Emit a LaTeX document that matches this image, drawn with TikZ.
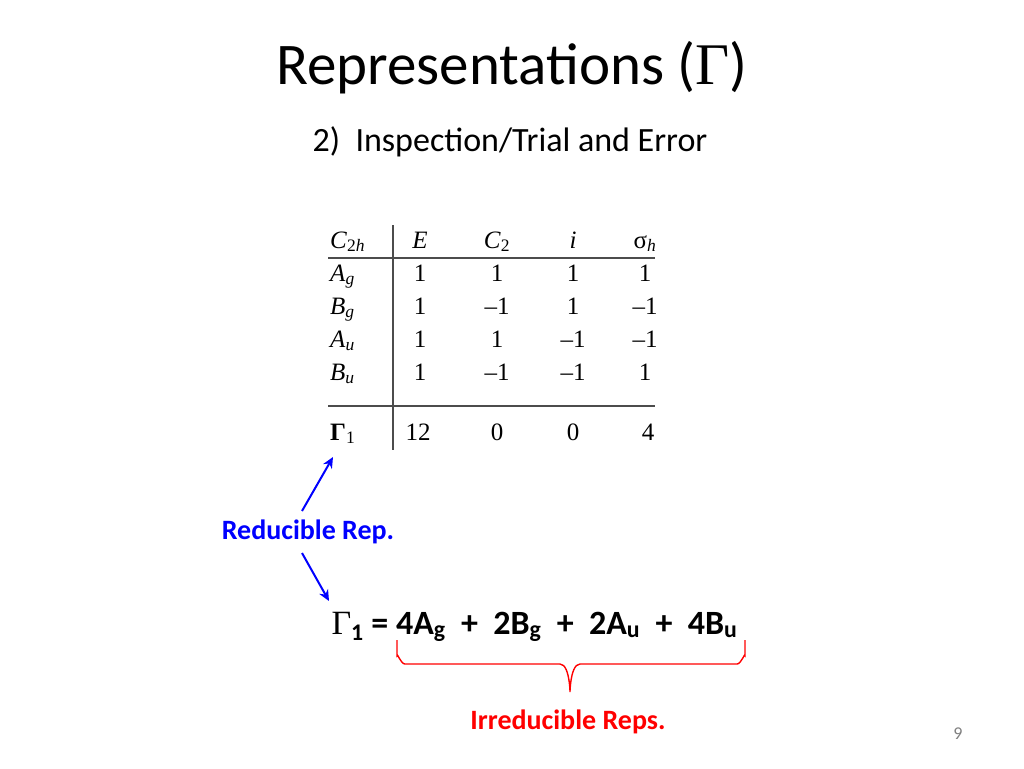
\documentclass[tikz,border=0pt]{standalone}
\usepackage{fontspec}
\setmainfont{Carlito}
\newfontfamily\tabfont{Liberation Serif}
\usetikzlibrary{arrows.meta}
\tikzset{
  cell/.style={font=\tabfont\fontsize{25}{28}\selectfont, inner sep=0pt, anchor=base},
  rule/.style={draw=black!70, line width=1.4pt},
  pointer/.style={draw=blue, line width=2pt, -{Stealth[length=11pt,width=10pt]}},
}
\begin{document}
\begin{tikzpicture}[x=1pt, y=-1pt]
\useasboundingbox (0,0) rectangle (1024,768);
% title
\node (title) at (512,68) {\fontsize{59}{64}\selectfont Representations ({\tabfont Γ})};
\node (sub) at (510,142) {\fontsize{34}{38}\selectfont 2)\ \ Inspection/Trial and Error};
% character table
\draw[rule] (328,258) -- (655,258);
\draw[rule] (328,406) -- (655,406);
\draw[rule] (393,225) -- (393,450);
\foreach \lbl/\xx in {\textit{E}/420, \textit{C}\textsubscript{2}/497, \textit{i}/573, σ\textsubscript{\textit{h}}/645}
  \node[cell] at (\xx,248) {\lbl};
\node[cell, anchor=base west] (c2h) at (330,248) {\textit{C}\textsubscript{2\textit{h}}};
\foreach \nm/\sb/\a/\b/\c/\d [count=\r] in {A/g/1/1/1/1, B/g/1/–1/1/–1, A/u/1/1/–1/–1, B/u/1/–1/–1/1}{
  \node[cell, anchor=base west] (irr\r) at (330,248+33*\r) {\textit{\nm}\textsubscript{\textit{\sb}}};
  \node[cell] at (420,248+33*\r) {\a};
  \node[cell] at (497,248+33*\r) {\b};
  \node[cell] at (573,248+33*\r) {\c};
  \node[cell] at (645,248+33*\r) {\d};
}
\node[cell, anchor=base west] (gam) at (330,440) {\textbf{Γ}\textsubscript{1}};
\foreach \v/\xx in {12/418, 0/497, 0/573, 4/648}
  \node[cell] at (\xx,440) {\v};
% labels and pointers
\node[text=blue, font=\bfseries\fontsize{28}{30}\selectfont] (red) at (308,532) {Reducible Rep.};
\coordinate (up) at (333,457);
\coordinate (dn) at (329,601);
\draw[pointer] (302,511) -- (up);
\draw[pointer] (302,553) -- (dn);
\node[anchor=base west, font=\bfseries\fontsize{34}{36}\selectfont] (eq) at (328,634)
  {{\tabfont\mdseries Γ}\textsubscript{1} = 4A\textsubscript{g}\ \ +\ \ 2B\textsubscript{g}\ \ +\ \ 2A\textsubscript{u}\ \ +\ \ 4B\textsubscript{u}};
\draw[red, line width=1.4pt] (397,640) -- (397,656) to[out=90,in=180] (405,664) -- (560,664)
  to[out=0,in=-90] (570,690) to[out=-90,in=180] (580,664) -- (737,664) to[out=0,in=90] (745,656) -- (745,640);
\node[text=red, font=\bfseries\fontsize{28}{30}\selectfont] (irred) at (568,722) {Irreducible Reps.};
\node[text=gray, font=\fontsize{18}{20}\selectfont] (page) at (958,734) {9};
\end{tikzpicture}
\end{document}
